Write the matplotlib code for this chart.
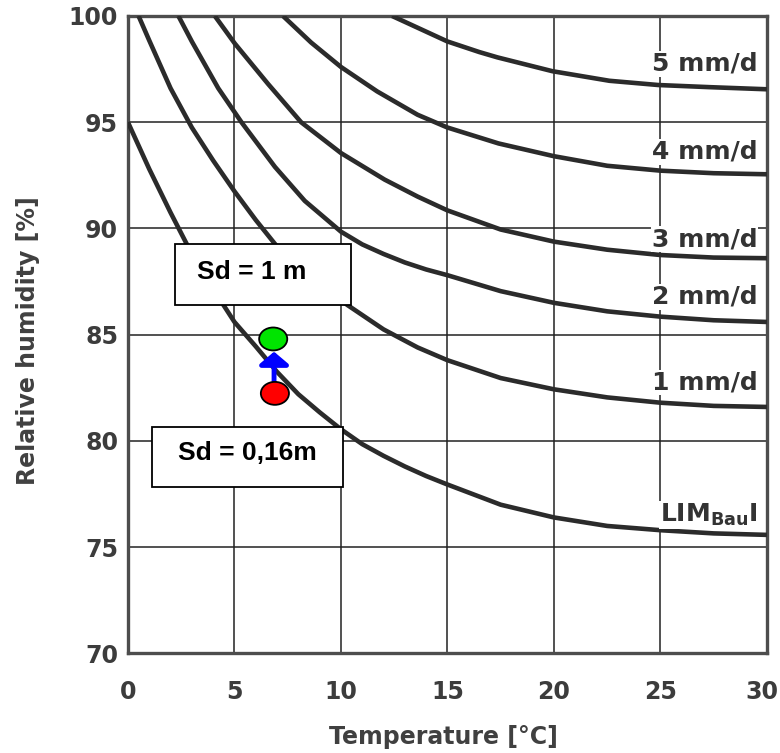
import matplotlib
matplotlib.use('Agg')
import matplotlib.pyplot as plt
from matplotlib.patches import Ellipse, Rectangle
from matplotlib.transforms import ScaledTranslation

# curves (temperature in degC, relative humidity in %)
lim_t = [0, 1, 2, 3, 4, 5, 6, 7, 8, 9, 10, 11, 12, 13, 14, 15, 17.5, 20, 22.5, 25, 27.5, 30]
lim_rh = [95.0, 92.8, 90.75, 88.8, 87.15, 85.6, 84.45, 83.25, 82.2, 81.35, 80.55,
          79.85, 79.3, 78.8, 78.35, 77.95, 77.0, 76.4, 76.0, 75.8, 75.65, 75.58]

mm1_t = [0.5, 1, 2, 3, 4, 5, 6, 7, 8.5, 10.3, 12, 13.6, 15, 17.5, 20, 22.5, 25, 27.5, 30]
mm1_rh = [100, 98.85, 96.6, 94.75, 93.2, 91.75, 90.4, 89.15, 87.75, 86.4, 85.25,
          84.4, 83.8, 82.96, 82.43, 82.05, 81.8, 81.65, 81.6]

mm2_t = [2.37, 3, 4.24, 5.33, 6.9, 8.3, 10, 11, 12, 13, 14, 15, 17.5, 20, 22.5, 25, 27.5, 30]
mm2_rh = [100, 98.8, 96.6, 95.0, 92.9, 91.3, 89.85, 89.25, 88.8, 88.4, 88.07, 87.8,
          87.05, 86.5, 86.1, 85.85, 85.68, 85.6]

mm3_t = [4.08, 5.02, 6.58, 8.13, 10, 12.05, 13.6, 15, 17.5, 20, 22.5, 25, 27.5, 30]
mm3_rh = [100, 98.7, 96.8, 95.0, 93.55, 92.3, 91.5, 90.85, 89.95, 89.38, 89.0,
          88.75, 88.63, 88.6]

mm4_t = [7.28, 8.6, 10, 11.7, 13.6, 15, 17.4, 20, 22.5, 25, 27.5, 30]
mm4_rh = [100, 98.75, 97.6, 96.45, 95.35, 94.75, 94.0, 93.4, 92.95, 92.72, 92.6, 92.55]

mm5_t = [12.4, 13.7, 15, 16.5, 17.35, 19.93, 22.6, 24.9, 27.3, 30]
mm5_rh = [100, 99.4, 98.8, 98.3, 98.05, 97.4, 96.95, 96.75, 96.65, 96.55]

curves = [(lim_t, lim_rh), (mm1_t, mm1_rh), (mm2_t, mm2_rh),
          (mm3_t, mm3_rh), (mm4_t, mm4_rh), (mm5_t, mm5_rh)]

curve_labels = ['LIM$_{\\mathbf{Bau}}$I', '1 mm/d', '2 mm/d', '3 mm/d', '4 mm/d', '5 mm/d']
label_rh = [76.2, 82.75, 86.78, 89.5, 93.6, 97.74]

# the two measured states (Sd = 0,16 m -> Sd = 1 m)
point_t = [6.9, 6.82]
point_rh = [82.24, 84.8]
point_colors = ['#ff0000', '#00e400']

box_texts = ['Sd = 1 m', 'Sd = 0,16m']

x_ticks = [0, 5, 10, 15, 20, 25, 30]
y_ticks = [70, 75, 80, 85, 90, 95, 100]


def main():
    plt.rcParams['font.family'] = ['DejaVu Sans']
    plt.rcParams['mathtext.fontset'] = 'dejavusans'

    fig = plt.figure(figsize=(7.8, 7.53), dpi=100)
    ax = fig.add_axes([0.164, 0.1322, 0.8193, 0.8466])

    ax.set_xlim(0, 30)
    ax.set_ylim(70, 100)
    ax.set_xticks(x_ticks)
    ax.set_yticks(y_ticks)
    ax.grid(True, color='#222222', linewidth=1.1, zorder=1)
    ax.set_axisbelow(True)
    for s in ax.spines.values():
        s.set_color('#4d4d4d')
        s.set_linewidth(2.4)

    ax.tick_params(axis='both', length=0, labelsize=17, labelcolor='#3c3c3c')
    ax.tick_params(axis='x', pad=19)
    ax.tick_params(axis='y', pad=7)
    for lab in ax.get_xticklabels() + ax.get_yticklabels():
        lab.set_fontweight('bold')
    # the last x label sits a bit left of its grid line in the scan
    last = ax.get_xticklabels()[-1]
    last.set_transform(last.get_transform() + ScaledTranslation(-0.05, 0, fig.dpi_scale_trans))

    for t, rh in curves:
        ax.plot(t, rh, color='#2b2b2b', linewidth=3.3, solid_capstyle='butt', zorder=3)

    for i, txt in enumerate(curve_labels):
        va = 'baseline' if i == 0 else 'center'
        ax.text(29.55, label_rh[i], txt, ha='right', va=va, fontsize=18,
                fontweight='bold', color='#333333', zorder=4,
                bbox=dict(facecolor='white', edgecolor='none', pad=0.5))

    # annotation boxes
    box1 = Rectangle((2.2, 86.4), 8.25, 2.87, facecolor='white', edgecolor='black',
                     linewidth=1.3, zorder=5)
    box2 = Rectangle((1.14, 77.82), 8.94, 2.85, facecolor='white', edgecolor='black',
                     linewidth=1.3, zorder=5)
    ax.add_patch(box1)
    ax.add_patch(box2)
    ax.text(3.22, 87.97, box_texts[0], ha='left', va='center', fontsize=19,
            fontweight='bold', family='Liberation Sans', color='black', zorder=6)
    ax.text(5.6, 79.43, box_texts[1], ha='center', va='center', fontsize=19,
            fontweight='bold', family='Liberation Sans', color='black', zorder=6)

    ax.annotate('', xy=(6.86, 84.2), xytext=(6.86, 82.75),
                arrowprops=dict(arrowstyle='-|>,head_length=0.38,head_width=0.45',
                                color='#0000ff', lw=3.5, mutation_scale=20,
                                shrinkA=0, shrinkB=0), zorder=6)

    for t, rh, c in zip(point_t, point_rh, point_colors):
        ax.add_patch(Ellipse((t, rh), 1.32, 1.08, facecolor=c, edgecolor='black',
                             linewidth=1.3, zorder=7))

    ax.set_xlabel('Temperature [°C]', fontsize=17, fontweight='bold', color='#404040')
    ax.set_ylabel('Relative humidity [%]', fontsize=17, fontweight='bold', color='#404040')
    ax.xaxis.set_label_coords(0.493, -0.112)
    ax.yaxis.set_label_coords(-0.138, 0.49)

    plt.savefig('out.png', dpi=100)


if __name__ == "__main__":
    main()
